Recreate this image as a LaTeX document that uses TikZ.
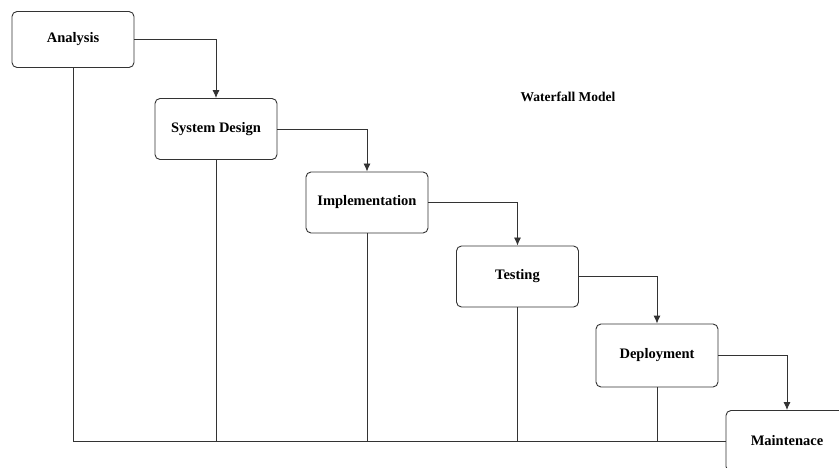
\documentclass[tikz,border=0pt]{standalone}
\usepackage{fontspec}
\setmainfont{Liberation Serif}
\usetikzlibrary{arrows.meta}

\begin{document}
\begin{tikzpicture}[x=1pt, y=-1pt,
        phase/.style={draw=black!80, line width=0.9pt, rounded corners=5pt, fill=white,
            minimum width=122pt, minimum height=61pt, inner sep=0pt,
            font=\fontsize{14.5}{16}\selectfont\bfseries},
        flow/.style={draw=black!80, line width=0.9pt, -{Latex[length=8pt, width=7pt]}},
        link/.style={draw=black!80, line width=0.9pt}]
    % 画布大小
    \useasboundingbox (0,0) rectangle (839,468);
    \fill[white] (0,0) rectangle (839,468);

    % 各阶段方框
    \node[phase, minimum height=56pt] (analysis) at (73, 39.5) {Analysis};
    \node[phase] (design) at (216, 129) {System Design};
    \node[phase] (impl) at (367, 202.5) {Implementation};
    \node[phase] (testing) at (517.5, 276.5) {Testing};
    \node[phase, minimum height=63pt] (deploy) at (657, 355.5) {Deployment};
    \node[phase] (maint) at (787, 441) {Maintenace};

    % 标题
    \node[font=\fontsize{13.5}{15}\selectfont\bfseries] (title) at (568, 97) {Waterfall Model};

    % 阶段之间的箭头
    \draw[flow] (analysis.east) -| (design.north);
    \draw[flow] (design.east) -| (impl.north);
    \draw[flow] (impl.east) -| (testing.north);
    \draw[flow] (testing.east) -| (deploy.north);
    \draw[flow] (deploy.east) -| (maint.north);

    % 底部的回路线
    \draw[link] (analysis.south) |- (maint.west);
    \draw[link] (design.south) -- (design.south |- maint.west);
    \draw[link] (impl.south) -- (impl.south |- maint.west);
    \draw[link] (testing.south) -- (testing.south |- maint.west);
    \draw[link] (deploy.south) -- (deploy.south |- maint.west);
\end{tikzpicture}
\end{document}
